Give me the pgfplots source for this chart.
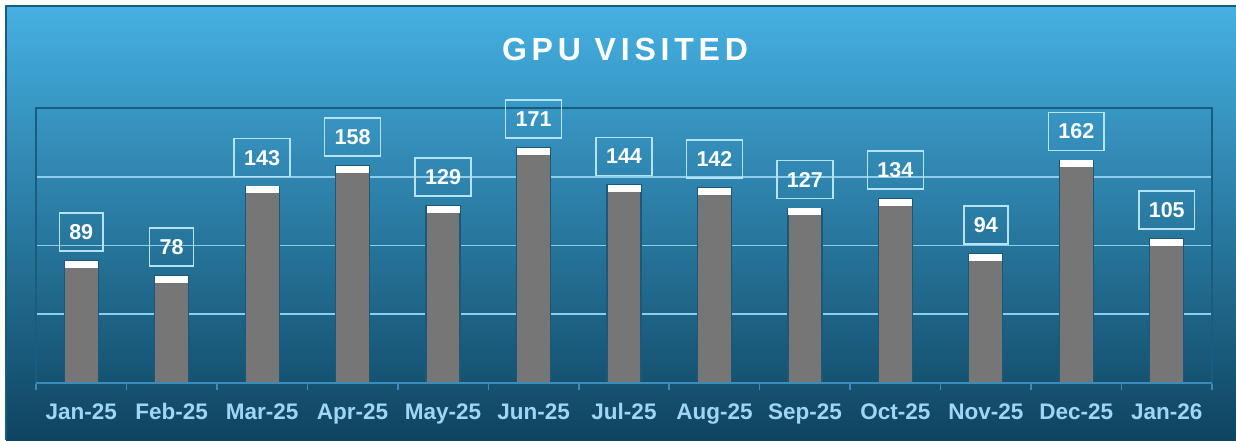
\documentclass[border=0pt]{standalone}
\usepackage{fontspec}
\setmainfont{Liberation Sans}
\usepackage{pgfplots}
\usepackage{pgfplotstable}
\pgfplotsset{compat=1.18}
\definecolor{bgtop}{RGB}{69,176,226}
\definecolor{bgbot}{RGB}{14,68,96}
\definecolor{framec}{RGB}{24,92,130}
\definecolor{gridc}{RGB}{140,206,236}
\definecolor{axisc}{RGB}{60,140,185}
\definecolor{barc}{RGB}{118,118,118}
\definecolor{baredge}{RGB}{30,88,120}
\definecolor{tickc}{RGB}{160,214,242}
\definecolor{boxc}{RGB}{180,226,246}
\pgfdeclareplotmark{cap}{\pgfpathrectangle{\pgfpoint{-16.5pt}{-7pt}}{\pgfpoint{33pt}{7pt}}\pgfusepathqfill}
\pgfplotstableread{
x v
0 89
1 78
2 143
3 158
4 129
5 171
6 144
7 142
8 127
9 134
10 94
11 162
12 105
}\data
\begin{document}
\begin{tikzpicture}[x=1pt,y=1pt]
\useasboundingbox (0,0) rectangle (1236,440);
\fill[white] (0,0) rectangle (1236,440);
\shade[top color=bgtop,bottom color=bgbot] (6,0) rectangle (1236,434);
\draw[framec,line width=2pt] (6,0) -- (6,434) -- (1236,434);
\node[white,font=\bfseries\fontsize{32}{37}\selectfont\addfontfeature{LetterSpace=15}] at (625,391) {GPU VISITED};
\begin{axis}[at={(36pt,57pt)},anchor=south west,scale only axis,width=1176pt,height=275pt,
  xmin=-0.5,xmax=12.5,ymin=0,ymax=200,
  xtick={0,...,12},
  xticklabels={Jan-25,Feb-25,Mar-25,Apr-25,May-25,Jun-25,Jul-25,Aug-25,Sep-25,Oct-25,Nov-25,Dec-25,Jan-26},
  major tick length=0pt,
  minor xtick={-0.5,0.5,...,12.5},
  minor tick length=7pt, tick align=outside, xtick pos=bottom,
  minor x tick style={axisc,line width=1.5pt},
  ytick={50,100,150}, yticklabels={}, ytick style={draw=none},
  ymajorgrids, grid style={gridc,line width=1.8pt},
  axis line style={framec,line width=1.8pt},
  xticklabel style={tickc,font=\bfseries\fontsize{22.5}{26}\selectfont,yshift=-17pt},
  /pgf/number format/assume math mode=true,
  clip=false,
]
\addplot[ybar,bar width=34pt,bar shift=0pt,fill=barc,draw=baredge,line width=1.2pt] table[x=x,y=v] {\data};
\addplot[only marks,mark=cap,mark options={fill=white,draw=none},
  point meta=y,
  nodes near coords,
  every node near coord/.append style={anchor=south,yshift=9pt,draw=boxc,line width=1.5pt,text=white,
    font=\bfseries\fontsize{21.5}{24}\selectfont,minimum height=38pt,inner xsep=10pt}]
  table[x=x,y=v] {\data};
\draw[axisc,line width=1.8pt] (axis description cs:0,0) -- (axis description cs:1,0);
\end{axis}
\end{tikzpicture}
\end{document}
